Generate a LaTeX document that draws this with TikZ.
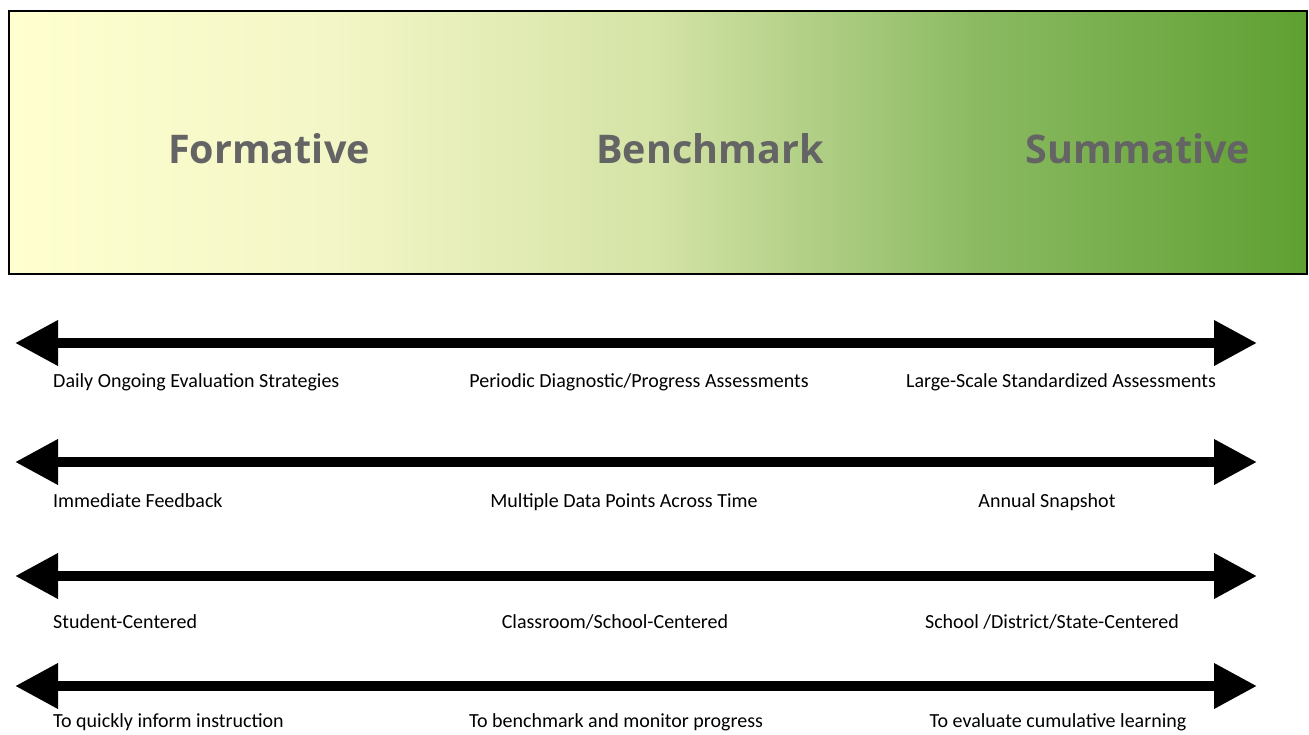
\documentclass[tikz,border=0pt]{standalone}
\usepackage{fontspec}
\setmainfont{Carlito}
\newfontfamily\headfont{Open Sans}
\usetikzlibrary{arrows.meta}
\definecolor{headgray}{RGB}{100,100,100}
\definecolor{paleyellow}{RGB}{255,255,208}
\definecolor{lightlime}{RGB}{243,246,198}
\definecolor{softgreen}{RGB}{212,227,166}
\definecolor{midgreen}{RGB}{138,185,97}
\definecolor{deepgreen}{RGB}{95,160,50}
\pgfdeclarehorizontalshading{assessgrad}{100bp}{color(0bp)=(paleyellow); color(25bp)=(paleyellow); color(37.5bp)=(lightlime); color(50bp)=(softgreen); color(62.5bp)=(midgreen); color(75bp)=(deepgreen); color(100bp)=(deepgreen)}

\begin{document}
\begin{tikzpicture}[x=1pt, y=-1pt,
  heading/.style={font=\headfont\bfseries\fontsize{39.5}{40}\selectfont, text=headgray, anchor=base, inner sep=0pt},
  note/.style={font=\fontsize{20}{20}\selectfont, anchor=base, inner sep=0pt},
  twoway/.style={line width=10pt, {Triangle[length=43pt,width=43pt]}-{Triangle[length=43pt,width=43pt]}}]
  \useasboundingbox (0,0) rectangle (1309,734);

  % band
  \shadedraw [shading=assessgrad, draw=black, line width=1.8pt] (9,11) rectangle (1307,274);
  \node [heading] (formative) at (269,163) {Formative};
  \node [heading] (benchmark) at (710,163) {Benchmark};
  \node [heading] (summative) at (1138,163) {Summative};

  % arrows
  \foreach \row/\ypos in {1/343, 2/462, 3/576, 4/686} {
    \coordinate (left\row) at (15,\ypos);
    \coordinate (right\row) at (1257,\ypos);
    \draw [twoway] (left\row) -- (right\row);
  }

  % labels
  \node [note, anchor=base west] (daily) at (53,387) {Daily Ongoing Evaluation Strategies};
  \node [note] (periodic) at (639,387) {Periodic Diagnostic/Progress Assessments};
  \node [note] (largescale) at (1061,387) {Large-Scale Standardized Assessments};

  \node [note, anchor=base west] (immediate) at (53,507) {Immediate Feedback};
  \node [note] (multiple) at (624,507) {Multiple Data Points Across Time};
  \node [note] (annual) at (1047,507) {Annual Snapshot};

  \node [note, anchor=base west] (student) at (53,628) {Student-Centered};
  \node [note] (classroom) at (615,628) {Classroom/School-Centered};
  \node [note] (district) at (1052,628) {School /District/State-Centered};

  \node [note, anchor=base west] (inform) at (53,727) {To quickly inform instruction};
  \node [note] (monitor) at (616,727) {To benchmark and monitor progress};
  \node [note] (evaluate) at (1058,727) {To evaluate cumulative learning};
\end{tikzpicture}
\end{document}
